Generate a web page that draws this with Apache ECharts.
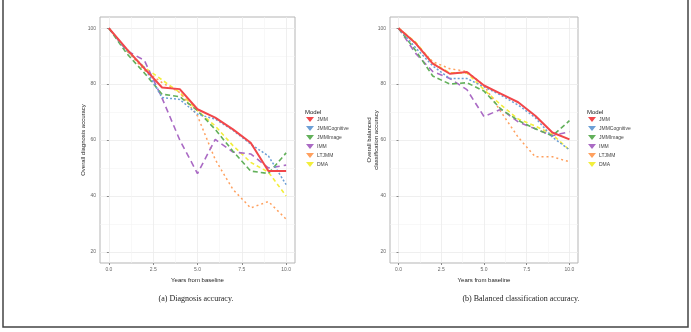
<!DOCTYPE html>
<html><head><meta charset="utf-8">
<script src="https://cdn.jsdelivr.net/npm/echarts@6/dist/echarts.min.js"></script>
<style>html,body{margin:0;padding:0;background:#fff}#c{width:691px;height:332px}</style>
</head><body><div id="c"></div>
<script>
const years = [0,1,2,3,4,5,6,7,8,9,10];
const models = ['JMM','JMMCognitive','JMMImage','IMM','LTJMM','DMA'];
const xTicks = [0,2.5,5,7.5,10];
const xMinor = [1.25,3.75,6.25,8.75];
const yTicks = [20,40,60,80,100];
const yMinor = [30,50,70,90];

// (a) Diagnosis accuracy
const diagJMM   = [100,92.6,85.6,78.8,78.2,71,68,63.8,59,48.9,48.9];
const diagCog   = [100,92,86,75.2,74.5,69.2,67.5,63.5,58.5,54.3,44];
const diagImg   = [100,91,84,76.4,75.5,70.5,63.8,56,48.9,48,55.4];
const diagIMM   = [100,92,88.5,75,60,48,60.2,55.7,55,50,51];
const diagLT    = [100,92,85,80.5,77,68.6,53,42.3,35.7,38,31.7];
const diagDMA   = [100,92,86,81.5,77,70.5,65,58,52,48.5,40];

// (b) Balanced classification accuracy
const balJMM    = [100,94.6,87.3,83.7,84.3,79.5,76.5,73.5,68.7,62.7,60.2];
const balCog    = [100,93,86.5,82,82,79,76,72.5,68,61,56.5];
const balImg    = [100,92,82.9,80,80.5,77.5,71,67,64,61.5,66.9];
const balIMM    = [100,91,84.5,82,78,68.4,71,66.5,64,61.5,63];
const balLT     = [100,94.5,88,85.5,84.5,79.5,70,61,54,54,52.2];
const balDMA    = [100,95,87.5,84,84,78,72.5,67.5,65,62,56.4];

const diagData = [diagJMM,diagCog,diagImg,diagIMM,diagLT,diagDMA];
const balData  = [balJMM,balCog,balImg,balIMM,balLT,balDMA];

const colors = ['#f2474a','#6c9fd6','#62b05a','#aa6ac4','#ffa05e','#f2ee3c'];
const widths = [2,1.5,1.6,1.6,1.5,1.6];
const types  = ['solid',[2,2],[5,3],[6,4],[2,3],[4,3]];

const gridColor = '#ebebeb';
const axisLabelStyle = {fontSize:5, color:'#666', fontFamily:'Liberation Sans', margin:4};

function xAxes(gi){
  return [
    {type:'value', gridIndex:gi, min:-0.5, max:10.5,
     axisLine:{show:false}, axisTick:{show:true, length:2, customValues:xTicks, lineStyle:{color:'#888'}},
     axisLabel:Object.assign({customValues:xTicks, formatter:v=>v.toFixed(1)}, axisLabelStyle),
     splitLine:{show:true, lineStyle:{color:gridColor, width:0.8}},
     name:'Years from baseline', nameLocation:'middle', nameGap:14, nameMoveOverlap:false,
     nameTextStyle:{fontSize:6, color:'#222', fontFamily:'Liberation Sans'}},
    {type:'value', gridIndex:gi, min:-0.5, max:10.5, position:'top',
     axisLine:{show:false}, axisTick:{show:false, customValues:xMinor},
     axisLabel:{show:false, customValues:xMinor},
     splitLine:{show:true, lineStyle:{color:'#f4f4f4', width:0.6}}}
  ];
}
function yAxes(gi, name, gap){
  return [
    {type:'value', gridIndex:gi, min:16, max:104,
     axisLine:{show:false}, axisTick:{show:true, length:2, customValues:yTicks, lineStyle:{color:'#888'}},
     axisLabel:Object.assign({customValues:yTicks}, axisLabelStyle),
     splitLine:{show:true, lineStyle:{color:gridColor, width:0.8}},
     name:name, nameLocation:'middle', nameGap:gap, nameRotate:90, nameMoveOverlap:false,
     nameTextStyle:{fontSize:6, color:'#222', fontFamily:'Liberation Sans', lineHeight:7}},
    {type:'value', gridIndex:gi, min:16, max:104, position:'right',
     axisLine:{show:false}, axisTick:{show:false, customValues:yMinor},
     axisLabel:{show:false, customValues:yMinor},
     splitLine:{show:true, lineStyle:{color:'#f4f4f4', width:0.6}}}
  ];
}

const series = [];
function addSeries(data, xi, yi){
  models.forEach((m,i)=>{
    series.push({
      name:m, type:'line', xAxisIndex:xi, yAxisIndex:yi,
      data: years.map((y,k)=>[y, data[i][k]]),
      showSymbol:false, symbol:'none', silent:true, animation:false,
      lineStyle:{color:colors[i], width:widths[i], type:types[i]},
      itemStyle:{color:colors[i]},
      z: 10 - i
    });
  });
}
addSeries(diagData, 0, 0);
addSeries(balData, 2, 2);

function legend(left){
  return {
    orient:'vertical', left:left, top:117, itemWidth:8, itemHeight:5, itemGap:4,
    data: models.map((m,i)=>({name:m, icon:'path://M0,0 L10,0 L5,6 Z', itemStyle:{color:colors[i]}})),
    textStyle:{fontSize:5, color:'#444', fontFamily:'Liberation Sans', padding:[0,0,0,-2]},
    selectedMode:false, padding:0
  };
}

const option = {
  animation:false,
  backgroundColor:'#fff',
  grid:[
    {left:100, top:17, width:195, height:246, show:true, borderColor:'#b5b5b5', borderWidth:1, containLabel:false},
    {left:390, top:17, width:188, height:246, show:true, borderColor:'#b5b5b5', borderWidth:1, containLabel:false}
  ],
  xAxis:[...xAxes(0), ...xAxes(1)],
  yAxis:[...yAxes(0,'Overall diagnosis accuracy',13), ...yAxes(1,'Overall balanced\nclassification accuracy',10)],
  legend:[legend(306), legend(588)],
  series:series,
  graphic:[
    {type:'rect', shape:{x:3, y:-5, width:685, height:332}, style:{fill:'none', stroke:'#444', lineWidth:1.5}, silent:true},
    {type:'text', left:305, top:109, style:{text:'Model', fontSize:6, fill:'#222', fontFamily:'Liberation Sans'}},
    {type:'text', left:587, top:109, style:{text:'Model', fontSize:6, fill:'#222', fontFamily:'Liberation Sans'}},
    {type:'text', x:196, y:299, style:{text:'(a) Diagnosis accuracy.', fontSize:8, fill:'#222', fontFamily:'Liberation Serif', align:'center', verticalAlign:'middle'}},
    {type:'text', x:521, y:299, style:{text:'(b) Balanced classification accuracy.', fontSize:8, fill:'#222', fontFamily:'Liberation Serif', align:'center', verticalAlign:'middle'}}
  ]
};
const chart = echarts.init(document.getElementById('c'), null, {renderer:'canvas'});
chart.setOption(option);
</script></body></html>
